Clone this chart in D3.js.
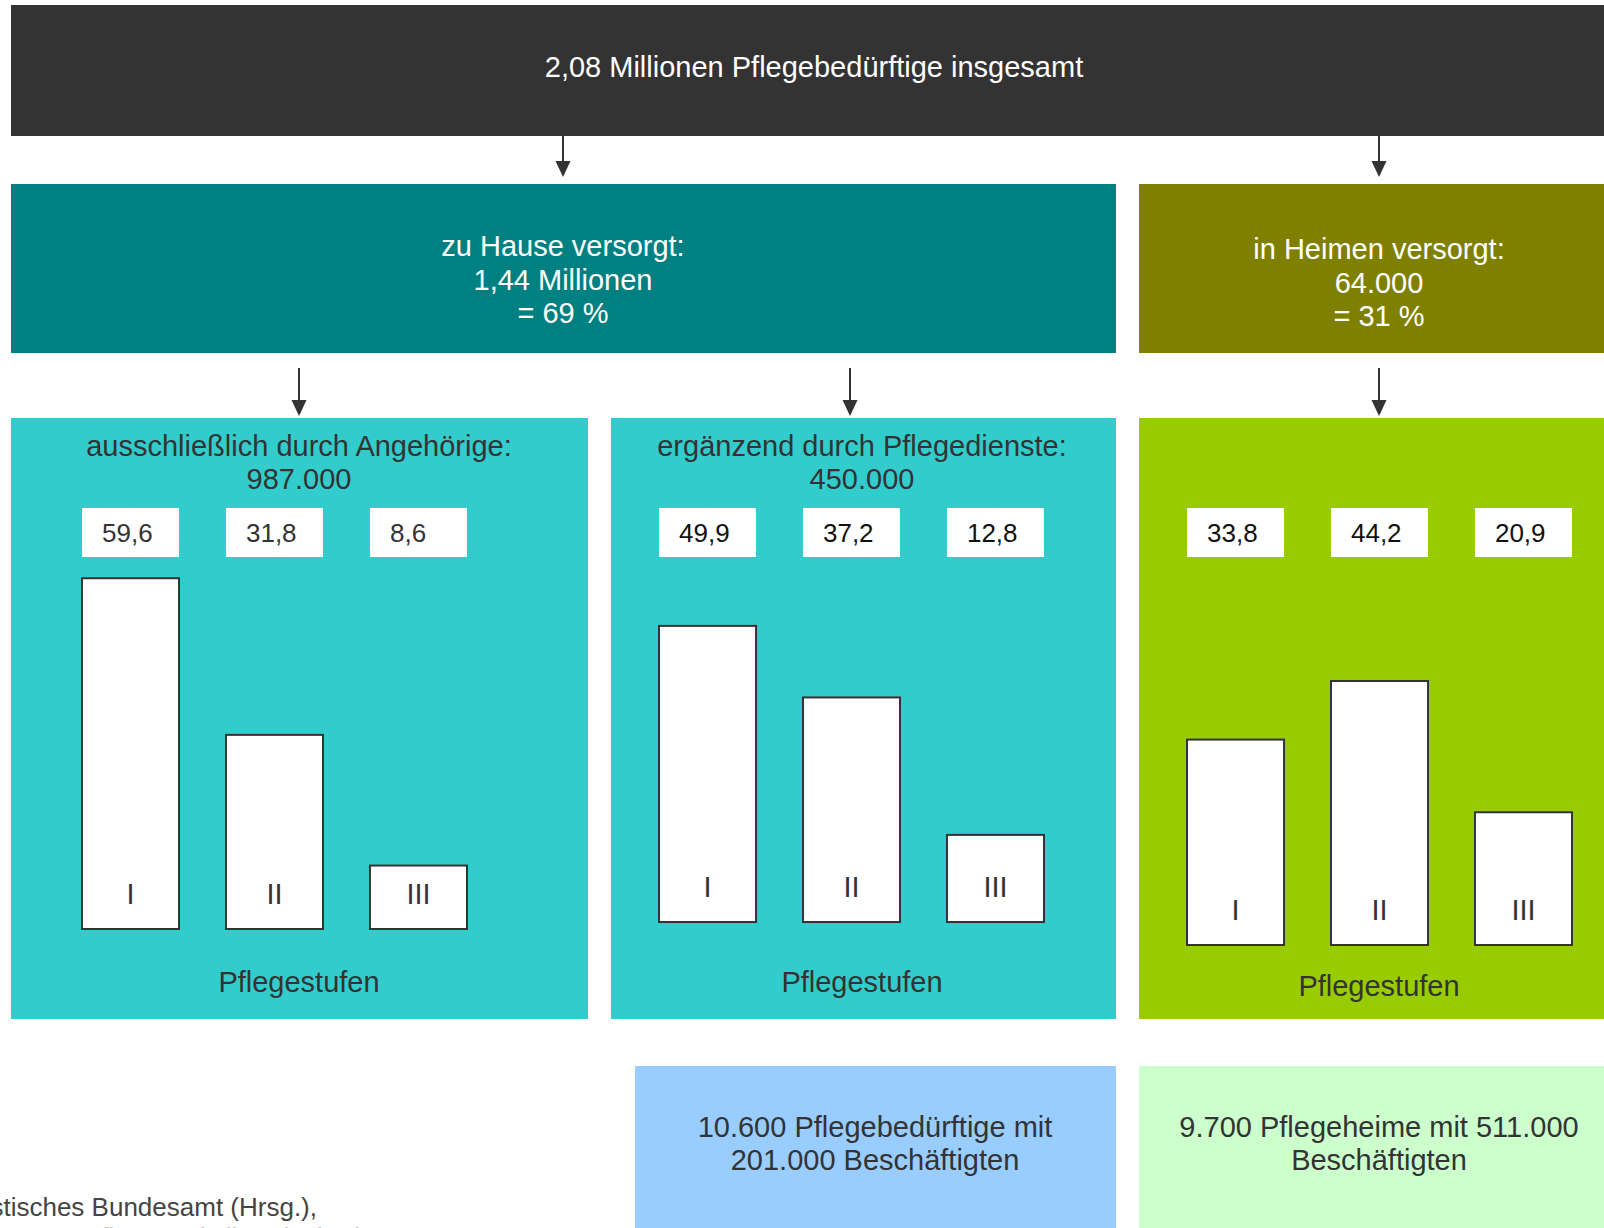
<!DOCTYPE html>
<html>
<head>
<meta charset="utf-8">
<script src="https://cdn.jsdelivr.net/npm/d3@7"></script>
<style>
  body { margin: 0; background: #fff; overflow: hidden; }
  svg { display: block; font-family: "Liberation Sans", Arial, sans-serif; }
</style>
</head>
<body>
<div id="chart"></div>
<script>
// values (share of each Pflegestufe, in %)
var stufen = ["I", "II", "III"];
var angehoerige = [59.6, 31.8, 8.6];
var pflegedienste = [49.9, 37.2, 12.8];
var heime = [33.8, 44.2, 20.9];

var topTitle = "2,08 Millionen Pflegebedürftige insgesamt";
var hauseLines = ["zu Hause versorgt:", "1,44 Millionen", "= 69 %"];
var heimLines = ["in Heimen versorgt:", "64.000", "= 31 %"];
var panelTitles = [
  ["ausschließlich durch Angehörige:", "987.000"],
  ["ergänzend durch Pflegedienste:", "450.000"],
  []
];
var axisTitle = "Pflegestufen";
var bottomLines = [
  ["10.600 Pflegebedürftige mit", "201.000 Beschäftigten"],
  ["9.700 Pflegeheime mit 511.000", "Beschäftigten"]
];
var sourceLines = ["Statistisches Bundesamt (Hrsg.),", "Pflegestatistik, Wiesbaden"];

var W = 1604, H = 1228;
var dark = "#333333";

var de = d3.formatLocale({ decimal: ",", thousands: ".", grouping: [3], currency: ["", " €"] });
var fmt = de.format(".1f");

var svg = d3.select("#chart").append("svg")
    .attr("width", W)
    .attr("height", H);

// box helper
var box = function(x, y, w, h, fill) {
    return svg.append("rect")
        .attr("x", x).attr("y", y)
        .attr("width", w).attr("height", h)
        .attr("fill", fill);
};

// multi-line centred text
var lines = function(arr, cx, y0, lh, color, size) {
    svg.append("g").selectAll("text")
        .data(arr)
        .enter().append("text")
        .attr("x", cx)
        .attr("y", function(d, i) { return y0 + i * lh; })
        .attr("text-anchor", "middle")
        .style("font-size", size + "px")
        .style("fill", color)
        .text(function(d) { return d; });
};

// arrow: line plus triangle head
var arrow = function(x, y1, y2) {
    svg.append("line")
        .attr("x1", x).attr("x2", x)
        .attr("y1", y1).attr("y2", y2 - 14)
        .attr("stroke", dark)
        .attr("stroke-width", 2);
    svg.append("path")
        .attr("d", "M" + (x - 7.5) + "," + (y2 - 16) + "L" + (x + 7.5) + "," + (y2 - 16) + "L" + x + "," + y2 + "Z")
        .attr("fill", dark);
};

// top level
box(11, 5, W + 20, 131, dark);
lines([topTitle], 814, 77, 0, "#fff", 29);

arrow(563, 136, 177);
arrow(1379, 136, 177);

box(11, 184, 1105, 169, "#008080");
box(1139, 184, 500, 169, "#808000");
lines(hauseLines, 563, 256, 33.5, "#fff", 29);
lines(heimLines, 1379, 259, 33.5, "#fff", 29);

arrow(299, 368, 416);
arrow(850, 368, 416);
arrow(1379, 368, 416);

// height of a bar from its share
var h = d3.scaleLinear().domain([0, 60]).range([15, 353]);

var panels = [
    { x: 11,   w: 577, fill: "#33CCCC", cx: 299,  data: angehoerige,   range: [82, 467],   base: 929, numColor: "#333", axisY: 992 },
    { x: 611,  w: 505, fill: "#33CCCC", cx: 862,  data: pflegedienste, range: [659, 1044], base: 922, numColor: "#111", axisY: 992 },
    { x: 1139, w: 500, fill: "#99CC00", cx: 1379, data: heime,         range: [1187, 1572], base: 945, numColor: "#111", axisY: 996 }
];

panels.forEach(function(p, pi) {
    box(p.x, 418, p.w, 601, p.fill);
    lines(panelTitles[pi], p.cx, 456, 33, dark, 29);

    var x = d3.scaleBand()
        .domain(stufen)
        .range(p.range)
        .paddingInner(0.326)
        .paddingOuter(0);

    var rows = stufen.map(function(s, i) { return { stufe: s, value: p.data[i] }; });
    var g = svg.append("g");

    // value boxes
    g.selectAll(".valbox")
        .data(rows)
        .enter().append("rect")
        .attr("class", "valbox")
        .attr("x", function(d) { return x(d.stufe); })
        .attr("y", 508)
        .attr("width", x.bandwidth())
        .attr("height", 49)
        .attr("fill", "#fff");

    g.selectAll(".valtext")
        .data(rows)
        .enter().append("text")
        .attr("class", "valtext")
        .attr("x", function(d) { return x(d.stufe) + 20; })
        .attr("y", 542)
        .style("font-size", "26px")
        .style("fill", p.numColor)
        .text(function(d) { return fmt(d.value); });

    // bars
    g.selectAll(".bar")
        .data(rows)
        .enter().append("rect")
        .attr("class", "bar")
        .attr("x", function(d) { return x(d.stufe); })
        .attr("y", function(d) { return p.base - h(d.value); })
        .attr("width", x.bandwidth())
        .attr("height", function(d) { return h(d.value); })
        .attr("fill", "#fff")
        .attr("stroke", dark)
        .attr("stroke-width", 2);

    g.selectAll(".stufe")
        .data(rows)
        .enter().append("text")
        .attr("class", "stufe")
        .attr("x", function(d) { return x(d.stufe) + x.bandwidth() / 2; })
        .attr("y", p.base - 25)
        .attr("text-anchor", "middle")
        .style("font-size", "29px")
        .style("fill", dark)
        .text(function(d) { return d.stufe; });

    lines([axisTitle], p.cx, p.axisY, 0, dark, 29);
});

// bottom boxes
box(635, 1066, 481, 200, "#99CCFF");
box(1139, 1066, 500, 200, "#CCFFCC");
lines(bottomLines[0], 875, 1137, 33, dark, 29);
lines(bottomLines[1], 1379, 1137, 33, dark, 29);

// source, cut at the left edge as in the original
svg.append("text")
    .attr("x", 317).attr("y", 1216)
    .attr("text-anchor", "end")
    .style("font-size", "26px")
    .style("fill", "#444")
    .text(sourceLines[0]);
svg.append("text")
    .attr("x", 84).attr("y", 1246)
    .style("font-size", "26px")
    .style("fill", "#bbb")
    .text(sourceLines[1]);
</script>
</body>
</html>
